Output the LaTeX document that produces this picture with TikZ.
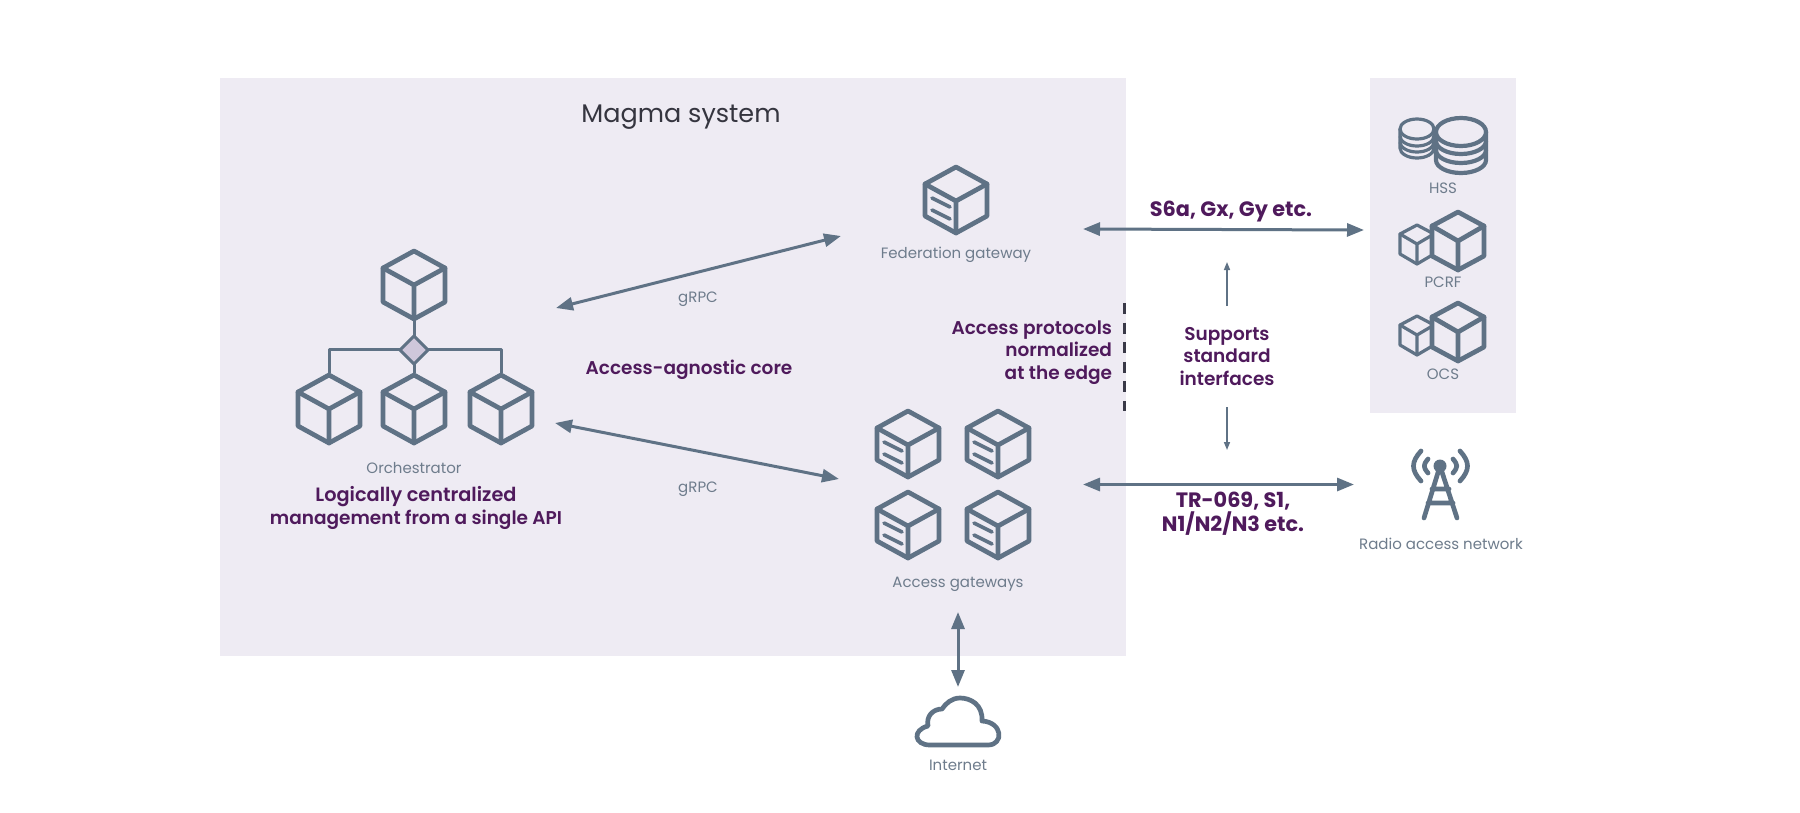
\documentclass[tikz,border=0pt]{standalone}
\usepackage{fontspec}
\usetikzlibrary{arrows.meta}
\setmainfont{Poppins}
\newfontfamily\semifont{Poppins SemiBold}
\definecolor{panel}{HTML}{EEEBF3}
\definecolor{icon}{HTML}{5F7285}
\definecolor{plum}{HTML}{4F1A5C}
\definecolor{caption}{HTML}{6E7C8C}
\definecolor{diamondfill}{HTML}{CFC7DB}
\definecolor{dashcol}{HTML}{3A3A48}
\definecolor{titlecol}{HTML}{35353F}
\tikzset{
  every node/.style={inner sep=0pt,outer sep=0pt},
  iconline/.style={draw=icon,line width=4.7pt,line join=round,line cap=round},
  capt/.style={text=caption,font=\fontsize{15}{18}\selectfont,anchor=center,yshift=-2pt},
  note/.style={text=plum,font=\semifont\fontsize{18.5}{22.5}\selectfont,align=center,anchor=center,yshift=-1pt},
  boldnote/.style={text=plum,font=\fontsize{20.8}{24}\bfseries\selectfont,align=center,anchor=center,yshift=-2pt},
  bigarrow/.style={draw=icon,line width=3pt,{Triangle[length=17pt,width=13pt]}-{Triangle[length=17pt,width=13pt]}},
  thinarrow/.style={draw=icon,line width=1.5pt,-{Triangle[length=8pt,width=6pt]}},
  pics/cube/.style={code={
    \draw[iconline] (0,-34)--(31,-17)--(31,17)--(0,34)--(-31,17)--(-31,-17)--cycle;
    \draw[iconline] (-31,-17)--(0,0)--(31,-17) (0,0)--(0,34);
  }},
  pics/gatecube/.style={code={
    \draw[iconline] (0,-33)--(31,-16)--(31,16)--(0,33)--(-31,16)--(-31,-16)--cycle;
    \draw[iconline] (-31,-16)--(0,1)--(31,-16) (0,1)--(0,33);
    \draw[iconline,line width=3.6pt] (-24,-2)--(-6,7) (-24,10)--(-6,19);
  }},
  pics/pair/.style={code={
    \draw[iconline,line width=3.2pt] (-41,-16)--(-24,-7)--(-24,13)--(-41,23)--(-58,13)--(-58,-7)--cycle;
    \draw[iconline,line width=3.2pt] (-58,-7)--(-41,3)--(-24,-7) (-41,3)--(-41,23);
    \draw[iconline,fill=panel] (0,-29)--(26,-15)--(26,15)--(0,29)--(-26,15)--(-26,-15)--cycle;
    \draw[iconline] (-26,-15)--(0,0)--(26,-15) (0,0)--(0,29);
  }},
}
\begin{document}
\begin{tikzpicture}[x=1pt,y=-1pt]
\useasboundingbox (0,0) rectangle (1800,812);
\fill[white] (0,0) rectangle (1800,812);
\fill[panel] (220,78) rectangle (1126,656);
\fill[panel] (1370,78) rectangle (1516,413);

% Orchestrator
\draw[iconline,line width=3pt,line cap=butt] (414,321)--(414,373) (329,373)--(329,349)--(501,349)--(501,373);
\pic at (414,285) {cube};
\pic at (329,409) {cube};
\pic at (414,409) {cube};
\pic at (501,409) {cube};
\draw[iconline,line width=3pt,fill=diamondfill] (414,336)--(428,350)--(414,364)--(400,350)--cycle;

% Gateways
\pic at (956,200) {gatecube};
\pic at (908,444) {gatecube};
\pic at (998,444) {gatecube};
\pic at (908,525) {gatecube};
\pic at (998,525) {gatecube};

% HSS
\begin{scope}[line width=3.2pt]
  \draw[icon] (1400,129) -- (1400,148) arc[start angle=180,end angle=0,x radius=17,y radius=10] -- (1434,129);
  \draw[icon] (1400,136) arc[start angle=180,end angle=0,x radius=17,y radius=10];
  \draw[icon] (1400,142) arc[start angle=180,end angle=0,x radius=17,y radius=10];
  \draw[icon] (1417,129) ellipse[x radius=17,y radius=10];
\end{scope}
\begin{scope}[line width=4.2pt]
  \draw[icon,fill=panel] (1436,132) -- (1436,160) arc[start angle=180,end angle=0,x radius=25,y radius=13] -- (1486,132);
  \draw[icon] (1436,141) arc[start angle=180,end angle=0,x radius=25,y radius=13];
  \draw[icon] (1436,150) arc[start angle=180,end angle=0,x radius=25,y radius=13];
  \draw[icon,fill=panel] (1461,132) ellipse[x radius=25,y radius=14];
\end{scope}
\pic at (1458,241) {pair};
\pic at (1458,332) {pair};

% Antenna
\draw[iconline] (1424,518)--(1440,466)--(1457,518) (1432,489)--(1449,489) (1428,503)--(1453,503);
\fill[icon] (1440,466) circle[radius=6.5];
\draw[iconline] (1421,451) .. controls (1411,462) and (1411,470) .. (1421,481);
\draw[iconline] (1460,451) .. controls (1470,462) and (1470,470) .. (1460,481);
\draw[iconline] (1428,459) .. controls (1423,465) and (1423,467) .. (1428,473);
\draw[iconline] (1453,459) .. controls (1458,465) and (1458,467) .. (1453,473);

% Cloud
\draw[iconline,line join=round] (930,745) -- (988,745)
  .. controls (1004,745) and (1003,722) .. (982,721)
  .. controls (983,704) and (970,698) .. (960,698)
  .. controls (952,698) and (946,703) .. (942,709)
  .. controls (933,709) and (926,716) .. (928,726)
  .. controls (912,730) and (914,745) .. (930,745) -- cycle;

% Endpoints
\coordinate (a1) at (556,308);
\coordinate (a2) at (841,236);
\coordinate (b1) at (555,423);
\coordinate (b2) at (839,479);
\coordinate (c1) at (1083,229);
\coordinate (c2) at (1364,230);
\coordinate (d1) at (1083,484.5);
\coordinate (d2) at (1354,484.5);
\coordinate (e1) at (958,612);
\coordinate (e2) at (958,687);
\coordinate (f1) at (1227,306);
\coordinate (f2) at (1227,262);
\coordinate (g1) at (1227,407);
\coordinate (g2) at (1227,450);
\coordinate (h1) at (1124,303);
\coordinate (h2) at (1124,411);
\draw[bigarrow] (a1)--(a2);
\draw[bigarrow] (b1)--(b2);
\draw[bigarrow] (c1)--(c2);
\draw[bigarrow] (d1)--(d2);
\draw[bigarrow] (e1)--(e2);
\draw[thinarrow] (f1)--(f2);
\draw[thinarrow] (g1)--(g2);
\draw[draw=dashcol,line width=3pt,dash pattern=on 11pt off 8.6pt] (h1)--(h2);

% Text
\node[text=titlecol,font=\fontsize{25.5}{30}\selectfont] (title) at (681,117) {Magma system};
\node[capt] (fed) at (956,253) {Federation gateway};
\node[capt] (orc) at (414,466) {Orchestrator};
\node[note] (logi) at (416,507) {\fontsize{19.3}{22.5}\selectfont Logically centralized\\management from a single API};
\node[capt] (grpc1) at (698,297) {gRPC};
\node[capt] (grpc2) at (698,487) {gRPC};
\node[note] (core) at (689,369) {Access-agnostic core};
\node[capt] (agw) at (958,582) {Access gateways};
\node[capt] (inet) at (958,763) {Internet};
\node[capt] (ran) at (1441,542) {Radio access network};
\node[capt] (hss) at (1443,186) {HSS};
\node[capt] (pcrf) at (1443,280) {PCRF};
\node[capt] (ocs) at (1443,372) {OCS};
\node[note,align=right,anchor=east] (norm) at (1112,351.5) {Access protocols\\normalized\\at the edge};
\node[note] (supp) at (1227,355.5) {Supports\\standard\\interfaces};
\node[boldnote] (s6a) at (1231,210) {S6a, Gx, Gy etc.};
\node[boldnote] (tr) at (1233,512) {TR-069, S1,\\N1/N2/N3 etc.};
\end{tikzpicture}
\end{document}
